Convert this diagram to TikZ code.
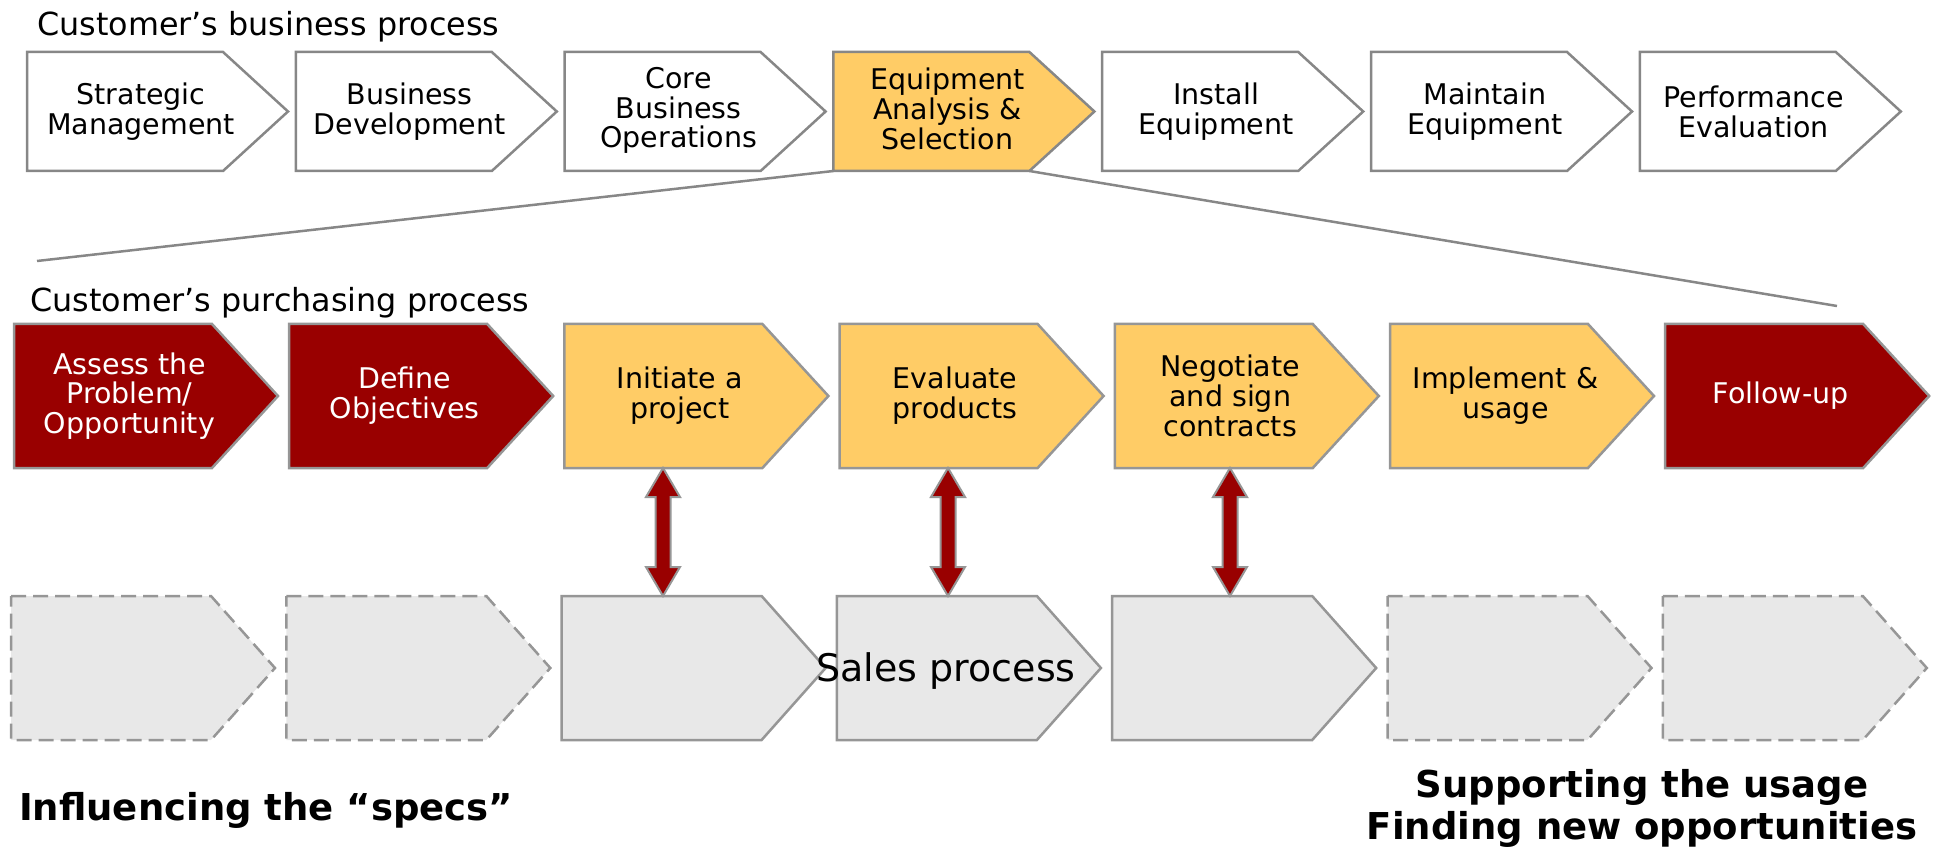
\documentclass[tikz,border=0pt]{standalone}
\usepackage{fontspec}
\setmainfont{DejaVu Sans}
\usepackage{tikz}

\definecolor{stepred}{RGB}{153,0,0}
\definecolor{stepyellow}{RGB}{255,204,102}
\definecolor{stepgrey}{RGB}{232,232,232}
\definecolor{edgegrey}{RGB}{150,150,150}
\definecolor{darkedge}{RGB}{135,135,135}

\tikzset{
  bizbox/.style={draw=darkedge, line width=2.5pt, fill=white},
  bizfocus/.style={bizbox, fill=stepyellow},
  buyred/.style={draw=edgegrey, line width=2.5pt, fill=stepred},
  buyyellow/.style={buyred, fill=stepyellow},
  salesbox/.style={draw=edgegrey, line width=2.5pt, fill=stepgrey},
  salesghost/.style={salesbox, dash pattern=on 15pt off 7pt},
  linkarrow/.style={draw=edgegrey, line width=2pt, fill=stepred},
  zoomline/.style={draw=darkedge, line width=2.5pt},
  rowtitle/.style={anchor=base west, inner sep=0pt, font=\fontsize{31.8}{36}\selectfont},
  steplabel/.style={align=center, inner sep=0pt, font=\fontsize{28.5}{29.8}\selectfont},
  redlabel/.style={steplabel, text=white},
  bigtext/.style={align=center, inner sep=0pt, font=\fontsize{37}{42}\selectfont\bfseries}
}

\begin{document}
\begin{tikzpicture}[x=1pt, y=-1pt]
    \useasboundingbox (0,0) rectangle (1933,850);

    % business process (top row)
    \node[rowtitle] (biztitle) at (37,36) {Customer’s business process};
    \foreach \i/\s in {0/bizbox,1/bizbox,2/bizbox,3/bizfocus,4/bizbox,5/bizbox,6/bizbox}
      \draw[\s] ({27+268.8*\i},52) -- ++(196,0) -- ++(65,59.5) -- ++(-65,59.5) coordinate (bizend\i)
        -- ++(-196,0) coordinate (bizfoot\i) -- cycle;

    \node[steplabel] (strat) at (141,111.5) {Strategic\\Management};
    \node[steplabel] (bizdev) at (409.8,111.5) {Business\\Development};
    \node[steplabel] (coreops) at (678.6,110.5) {Core\\Business\\Operations};
    \node[steplabel] (equip) at (947.4,109) {Equipment\\Analysis \&\\Selection};
    \node[steplabel] (install) at (1216.2,111.5) {Install\\Equipment};
    \node[steplabel] (maintain) at (1485,111.5) {Maintain\\Equipment};
    \node[steplabel] (perf) at (1753.8,111.5) {Performance\\Evaluation};

    % zoom from the selection step
    \coordinate (zoomL) at (37,261);
    \coordinate (zoomR) at (1837,306);
    \draw[zoomline] (bizfoot3) -- (zoomL);
    \draw[zoomline] (bizend3) -- (zoomR);

    % purchasing process (middle row)
    \node[rowtitle] (buytitle) at (30,312) {Customer’s purchasing process};
    \foreach \i/\s in {0/buyred,1/buyred,2/buyyellow,3/buyyellow,4/buyyellow,5/buyyellow,6/buyred}
      \draw[\s] ({14+275.2*\i},324) -- ++(198,0) -- ++(66,72) -- ++(-66,72) -- ++(-198,0) -- cycle;

    \node[redlabel] (assess) at (129.5,396) {Assess the\\Problem/\\Opportunity};
    \node[redlabel] (define) at (404.7,396) {Define\\Objectives};
    \node[steplabel] (initiate) at (679.9,396) {Initiate a\\project};
    \node[steplabel] (evaluate) at (955.1,396) {Evaluate\\products};
    \node[steplabel] (negotiate) at (1230.3,396) {Negotiate\\and sign\\contracts};
    \node[steplabel] (implement) at (1505.5,396) {Implement \&\\usage};
    \node[redlabel] (followup) at (1780.7,396) {Follow-up};

    % sales process (bottom row)
    \foreach \i/\s in {0/salesghost,1/salesghost,2/salesbox,3/salesbox,4/salesbox,5/salesghost,6/salesghost}
      \draw[\s] ({11+275.3*\i},596) -- ++(200,0) -- ++(64,72) -- ++(-64,72) -- ++(-200,0) -- cycle;

    \node[inner sep=0pt, font=\fontsize{38}{44}\selectfont] (sales) at (946,671) {Sales process};

    % links between purchasing and sales
    \foreach \x [count=\i] in {663,948,1230} {
      \coordinate (up\i) at (\x,468);
      \coordinate (dn\i) at (\x,596);
      \draw[linkarrow] (up\i) -- ++(17,29) -- ++(-9.5,0) -- ++(0,70) -- ++(9.5,0) -- (dn\i)
        -- ++(-17,-29) -- ++(9.5,0) -- ++(0,-70) -- ++(-9.5,0) -- cycle;
    }

    \node[bigtext] (specs) at (266,810) {Influencing the “specs”};
    \node[bigtext] (usage) at (1642,808) {Supporting the usage\\Finding new opportunities};
\end{tikzpicture}
\end{document}
